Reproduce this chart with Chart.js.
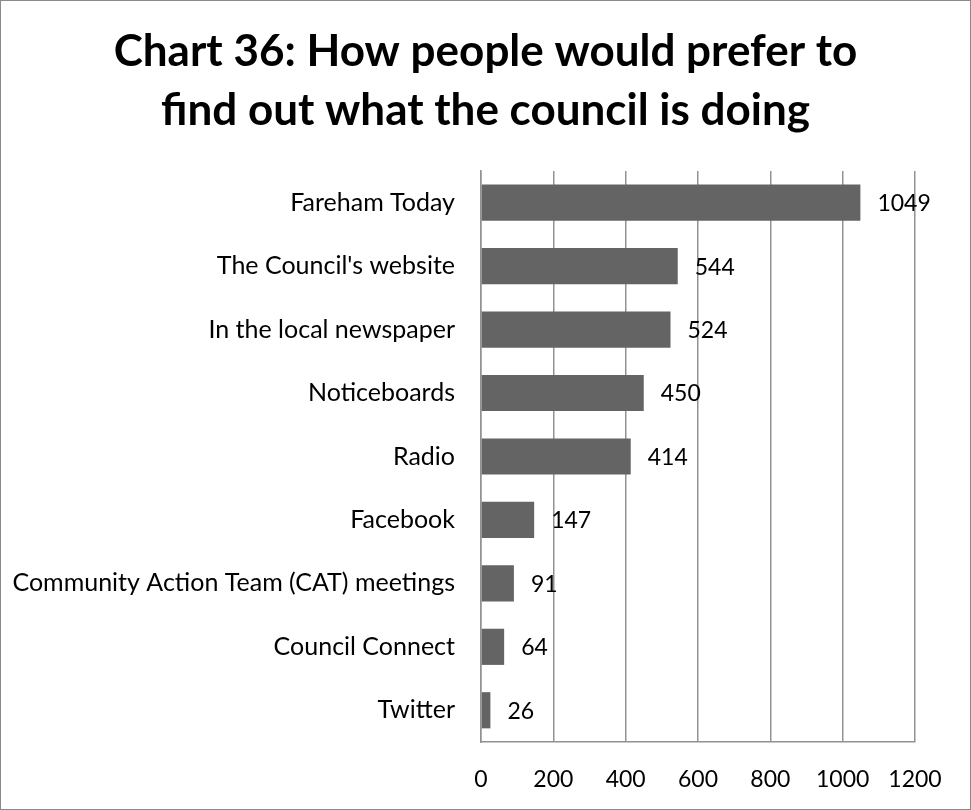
<!DOCTYPE html>
<html>
<head>
<meta charset="utf-8">
<title>Chart 36</title>
<script src="https://cdn.jsdelivr.net/npm/chart.js@4.4.1/dist/chart.umd.min.js"></script>
<style>
  html, body { margin: 0; padding: 0; background: #fff; }
  canvas { display: block; }
</style>
</head>
<body>
<canvas id="chart36" width="971" height="810"></canvas>
<script>
// Survey answers, top to bottom as shown
const categories = [
  'Fareham Today',
  "The Council's website",
  'In the local newspaper',
  'Noticeboards',
  'Radio',
  'Facebook',
  'Community Action Team (CAT) meetings',
  'Council Connect',
  'Twitter'
];
const responses = [1049, 544, 524, 450, 414, 147, 91, 64, 26];
const xTicks = [0, 200, 400, 600, 800, 1000, 1200];

const titleLines = ['Chart 36: How people would prefer to', 'find out what the council is doing'];

const FONT = 'Lato, "Open Sans", sans-serif';
const BAR_COLOR = '#646464';
const GRID_COLOR = '#929292';

// frame around the whole picture
const framePlugin = {
  id: 'frame',
  afterDraw(chart) {
    const ctx = chart.ctx;
    ctx.save();
    ctx.strokeStyle = '#8a8a8a';
    ctx.lineWidth = 1;
    ctx.strokeRect(0.5, 0.5, chart.width - 1, chart.height - 1);
    ctx.restore();
  }
};

// value labels just past the end of each bar
const valueLabels = {
  id: 'valueLabels',
  afterDatasetsDraw(chart) {
    const ctx = chart.ctx;
    const meta = chart.getDatasetMeta(0);
    ctx.save();
    ctx.font = '23px ' + FONT;
    ctx.fillStyle = '#000';
    ctx.textAlign = 'left';
    ctx.textBaseline = 'middle';
    meta.data.forEach((bar, i) => {
      ctx.fillText(String(responses[i]), bar.x + 17, bar.y + 1);
    });
    ctx.restore();
  }
};

const ctx = document.getElementById('chart36').getContext('2d');
new Chart(ctx, {
  type: 'bar',
  data: {
    labels: categories,
    datasets: [{
      data: responses,
      backgroundColor: BAR_COLOR,
      borderWidth: 0,
      barPercentage: 0.57,
      categoryPercentage: 1
    }]
  },
  options: {
    indexAxis: 'y',
    responsive: false,
    animation: false,
    layout: {
      padding: { left: 1, right: 1, top: 0, bottom: 0 }
    },
    plugins: {
      legend: { display: false },
      tooltip: { enabled: false },
      title: {
        display: true,
        text: titleLines,
        color: '#000',
        font: { family: FONT, size: 44, weight: 'bold', lineHeight: 1.34 },
        padding: { top: 22, bottom: 31 }
      }
    },
    scales: {
      x: {
        min: 0,
        max: 1200,
        afterBuildTicks(scale) {
          scale.ticks = xTicks.map(v => ({ value: v }));
        },
        afterFit(scale) {
          scale.height = 68;
        },
        grid: {
          color: GRID_COLOR,
          lineWidth: 1.5,
          drawTicks: false
        },
        border: { display: true, color: GRID_COLOR, width: 1.5 },
        ticks: {
          color: '#000',
          padding: 24,
          font: { family: FONT, size: 23 },
          maxRotation: 0,
          callback: v => String(v)
        }
      },
      y: {
        afterFit(scale) {
          scale.width = 480;
        },
        grid: { display: false, drawTicks: false },
        border: { display: true, color: GRID_COLOR, width: 1.5 },
        ticks: {
          color: '#000',
          padding: 26,
          font: { family: FONT, size: 25 },
          autoSkip: false
        }
      },
      // empty right-hand strip so the plot ends where the reference does
      yRight: {
        type: 'category',
        position: 'right',
        display: true,
        afterFit(scale) {
          scale.width = 55;
        },
        grid: { display: false, drawTicks: false },
        border: { display: false },
        ticks: { display: false }
      }
    }
  },
  plugins: [valueLabels, framePlugin]
});
</script>
</body>
</html>
